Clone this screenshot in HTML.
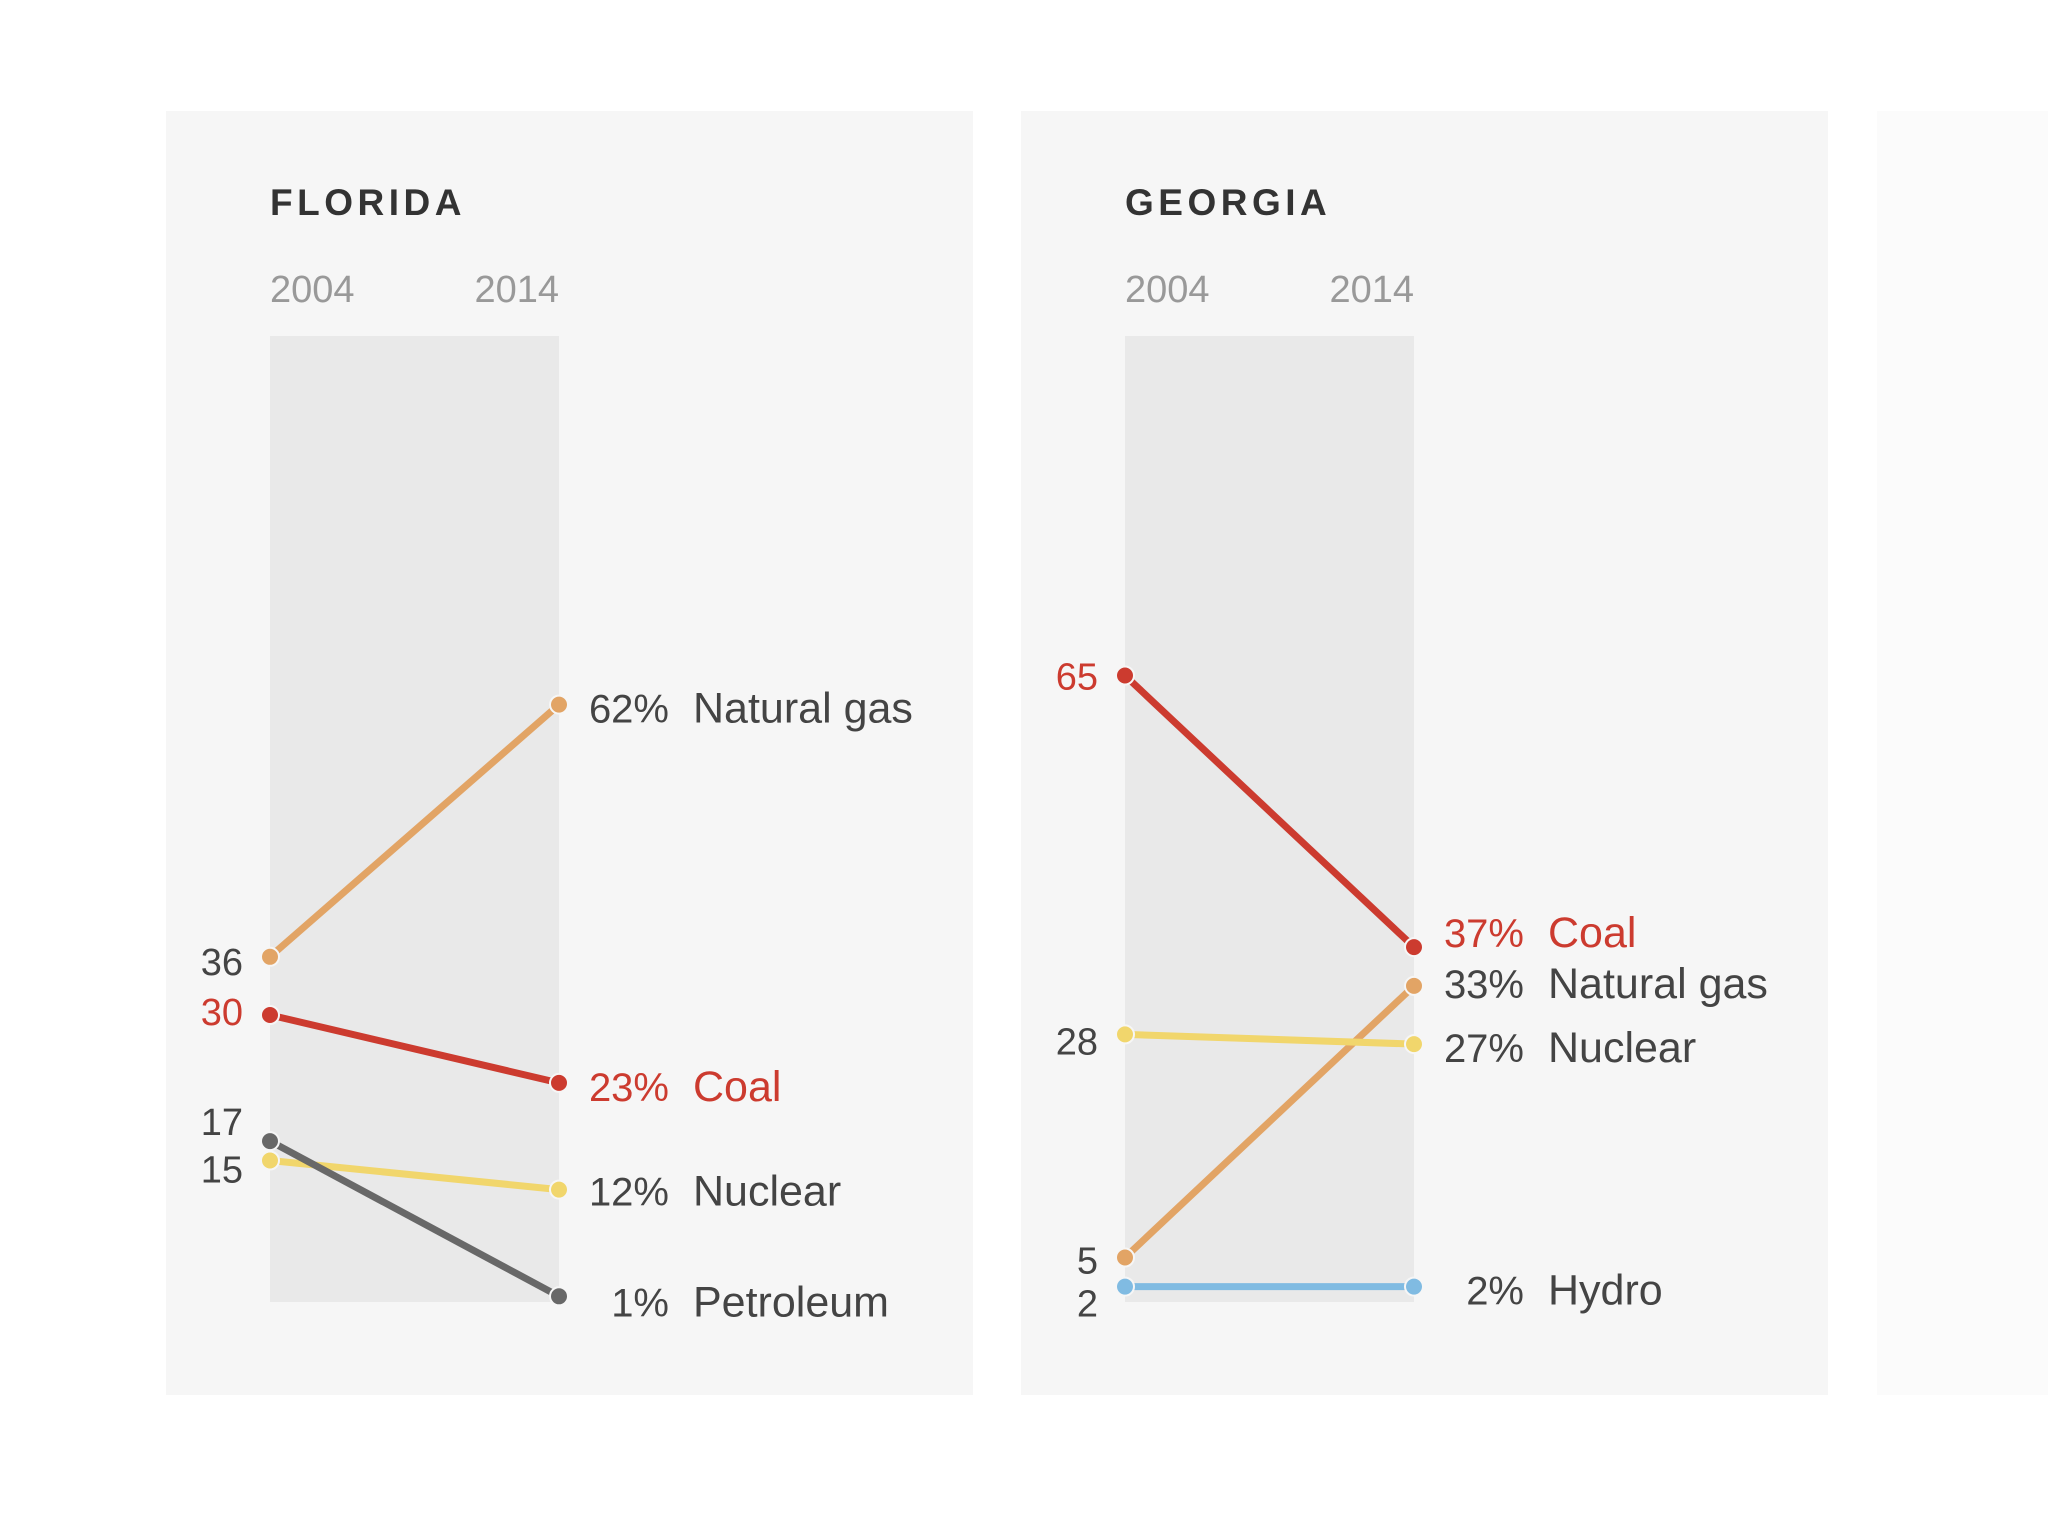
<!DOCTYPE html>
<html><head><meta charset="utf-8">
<style>
html,body{margin:0;padding:0;background:#fff;}
svg{display:block;font-family:"Liberation Sans",Arial,sans-serif;}
</style></head>
<body>
<svg id="chart" width="2048" height="1536" viewBox="0 0 2048 1536">
  <rect x="166" y="111" width="807" height="1284" fill="#f6f6f6"/>
  <rect x="1021" y="111" width="807" height="1284" fill="#f6f6f6"/>
  <rect x="1877" y="111" width="171" height="1284" fill="#fbfbfb"/>
</svg>
<script>
const years = ["2004","2014"];
const floridaSources = ["Natural gas","Coal","Nuclear","Petroleum"];
const floridaStart = [36,30,15,17];
const floridaEnd = [62,23,12,1];
const georgiaSources = ["Coal","Natural gas","Nuclear","Hydro"];
const georgiaStart = [65,5,28,2];
const georgiaEnd = [37,33,27,2];

const colorOf = {"Natural gas":"#e2a465","Coal":"#cc3b2f","Nuclear":"#f1d66c","Petroleum":"#686868","Hydro":"#80bbe2"};
const textOf = {"Coal":"#cc3b2f"};
// label nudges (layout only)
const floridaStartNudge = [4,-4,8,-20];
const floridaEndNudge = [4,4,2,6];
const georgiaStartNudge = [0,2,6,16];
const georgiaEndNudge = [-14,-2,4,4];

const NS="http://www.w3.org/2000/svg";
const svg=document.getElementById('chart');
function y(v){return 1306 - v*9.7;}
function mk(tag,attrs,parent){const e=document.createElementNS(NS,tag);for(const k in attrs)e.setAttribute(k,attrs[k]);(parent||svg).appendChild(e);return e;}

function panel(key,title,x0,sources,start,end,sn,en){
  const x1=x0+289;
  const g=mk('g',{});
  
  
  const t=mk('text',{x:x0,y:215,'font-size':37,'font-weight':'bold',fill:'#333','letter-spacing':'4.5'},g);
  t.textContent=title;
  
  
  const band=mk('rect',{x:x0,y:336,width:x1-x0,height:966,fill:'#e9e9e9'},g);
  
  
  [x0,x1].forEach((xx,i)=>{
    const yt=mk('text',{x:xx,y:302,'font-size':38,fill:'#999','text-anchor':i?'end':'start'},g);
    yt.textContent=years[i];
    
    
  });
  sources.forEach((s,i)=>{
    const c=colorOf[s], tc=textOf[s]||'#444';
    const ln=mk('line',{x1:x0,y1:y(start[i]),x2:x1,y2:y(end[i]),stroke:c,'stroke-width':7},g);
    
    
    [[x0,start[i]],[x1,end[i]]].forEach(p=>{
      const d=mk('circle',{cx:p[0],cy:y(p[1]),r:9,fill:c,stroke:'#f6f6f6','stroke-width':2},g);
      
      
    });
    const lv=mk('text',{x:x0-27,y:y(start[i])+14+sn[i],'font-size':38,fill:tc,'text-anchor':'end'},g);
    lv.textContent=start[i];
    
    
    const rv=mk('text',{x:x1+110,y:y(end[i])+14+en[i],'font-size':40,fill:tc,'text-anchor':'end'},g);
    rv.textContent=end[i]+'%';
    
    
    const nm=mk('text',{x:x1+134,y:y(end[i])+14+en[i],'font-size':43,fill:tc},g);
    nm.textContent=s;
    
    
  });
}
panel('florida','FLORIDA',270,floridaSources,floridaStart,floridaEnd,floridaStartNudge,floridaEndNudge);
panel('georgia','GEORGIA',1125,georgiaSources,georgiaStart,georgiaEnd,georgiaStartNudge,georgiaEndNudge);
</script>
</body></html>
